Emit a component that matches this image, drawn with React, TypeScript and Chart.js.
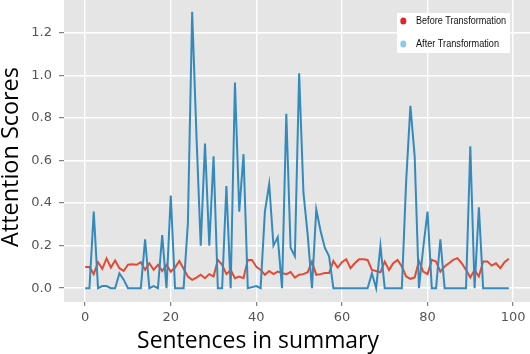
import React, { useEffect, useRef } from "react";
import { Chart, registerables } from "chart.js";

Chart.register(...registerables);

const sentences = [
  0, 1, 2, 3, 4, 5, 6, 7, 8, 9, 10, 11, 12, 13, 14, 15, 16, 17, 18, 19,
  20, 21, 22, 23, 24, 25, 26, 27, 28, 29, 30, 31, 32, 33, 34, 35, 36, 37, 38, 39,
  40, 41, 42, 43, 44, 45, 46, 47, 48, 49, 50, 51, 52, 53, 54, 55, 56, 57, 58, 59,
  60, 61, 62, 63, 64, 65, 66, 67, 68, 69, 70, 71, 72, 73, 74, 75, 76, 77, 78, 79,
  80, 81, 82, 83, 84, 85, 86, 87, 88, 89, 90, 91, 92, 93, 94, 95, 96, 97, 98, 99,
];

const beforeTransformation = [
  0.099, 0.099, 0.066, 0.122, 0.091, 0.14, 0.097, 0.13, 0.094, 0.081,
  0.11, 0.113, 0.11, 0.122, 0.086, 0.117, 0.086, 0.11, 0.081, 0.11,
  0.078, 0.097, 0.128, 0.091, 0.055, 0.039, 0.05, 0.063, 0.047, 0.066,
  0.055, 0.133, 0.11, 0.066, 0.086, 0.047, 0.055, 0.047, 0.133, 0.133,
  0.1, 0.086, 0.063, 0.081, 0.066, 0.078, 0.071, 0.066, 0.076, 0.05,
  0.063, 0.066, 0.075, 0.125, 0.063, 0.066, 0.071, 0.071, 0.128, 0.097,
  0.122, 0.136, 0.094, 0.117, 0.136, 0.136, 0.133, 0.086, 0.081, 0.075,
  0.125, 0.086, 0.117, 0.133, 0.102, 0.055, 0.044, 0.05, 0.128, 0.078,
  0.066, 0.133, 0.125, 0.078, 0.102, 0.117, 0.133, 0.141, 0.117, 0.086,
  0.05, 0.086, 0.055, 0.125, 0.125, 0.106, 0.117, 0.094, 0.122, 0.138,
];

const afterTransformation = [
  0, 0, 0.36, 0, 0.01, 0.01, 0, 0, 0.07, 0.04,
  0, 0, 0, 0, 0.23, 0, 0.01, 0, 0.25, 0,
  0.435, 0, 0, 0, 0.305, 1.3, 0.72, 0.2, 0.68, 0.2,
  0.62, 0, 0, 0.48, 0, 0.967, 0.36, 0.63, 0, 0.005,
  0.01, 0, 0.36, 0.49, 0.2, 0.24, 0, 0.82, 0.19, 0.15,
  1.01, 0.45, 0.25, 0, 0.37, 0.27, 0.19, 0.15, 0, 0,
  0, 0, 0, 0, 0, 0, 0, 0.07, 0, 0.2,
  0, 0, 0, 0, 0, 0.5, 0.857, 0.62, 0, 0.19,
  0.36, 0, 0, 0.23, 0, 0, 0, 0, 0, 0,
  0.667, 0, 0.38, 0, 0, 0, 0, 0, 0, 0,
];

const xTicks = [0, 20, 40, 60, 80, 100];
const yTicks = [0.0, 0.2, 0.4, 0.6, 0.8, 1.0, 1.2];

const seriesNames = ["Before Transformation", "After Transformation"];
const xTitle = "Sentences in summary";
const yTitle = "Attention Scores";

const RED = "#E24A33";
const BLUE = "#348ABD";
const LEGEND_RED = "#E3202B";
const LEGEND_BLUE = "#8FC9E8";

function fitFont(ctx: CanvasRenderingContext2D, text: string, family: string, target: number, base: number) {
  ctx.font = `${base}px ${family}`;
  const w = ctx.measureText(text).width;
  return base * (target / w);
}

const decorPlugin = {
  id: "decor",
  beforeDraw(chart: any) {
    const { ctx, chartArea } = chart;
    ctx.save();
    ctx.fillStyle = "#E5E5E5";
    ctx.fillRect(chartArea.left, chartArea.top, chartArea.right - chartArea.left, chartArea.bottom - chartArea.top);
    ctx.restore();
  },
  afterDraw(chart: any) {
    const { ctx } = chart;
    ctx.save();
    // axis titles
    const fam = '"Open Sans", "Noto Sans", sans-serif';
    ctx.fillStyle = "#000";
    ctx.textAlign = "center";
    ctx.textBaseline = "middle";
    const xs = fitFont(ctx, xTitle, fam, 242, 22);
    ctx.font = `${xs}px ${fam}`;
    ctx.fillText(xTitle, 258, 341);
    const ys = fitFont(ctx, yTitle, fam, 180, 22);
    ctx.font = `${ys}px ${fam}`;
    ctx.translate(11, 157);
    ctx.rotate(-Math.PI / 2);
    ctx.fillText(yTitle, 0, 0);
    ctx.restore();

    // legend
    ctx.save();
    ctx.fillStyle = "#FFFFFF";
    ctx.fillRect(397, 13, 113, 40);
    const colors = [LEGEND_RED, LEGEND_BLUE];
    const ys2 = [21, 44];
    const widths = [90, 83];
    const lf = '"Liberation Sans Narrow", "Liberation Sans", "DejaVu Sans Condensed", sans-serif';
    for (let k = 0; k < 2; k++) {
      ctx.fillStyle = colors[k];
      ctx.beginPath();
      ctx.ellipse(403.3, ys2[k], 3, 3.6, 0, 0, Math.PI * 2);
      ctx.fill();
      ctx.font = `11px ${lf}`;
      const w = ctx.measureText(seriesNames[k]).width;
      ctx.save();
      ctx.translate(416, ys2[k]);
      ctx.scale(widths[k] / w, 1);
      ctx.fillStyle = "#111";
      ctx.textAlign = "left";
      ctx.textBaseline = "middle";
      ctx.fillText(seriesNames[k], 0, 0);
      ctx.restore();
    }
    ctx.restore();
  },
};

export default function App() {
  const ref = useRef<HTMLCanvasElement | null>(null);
  useEffect(() => {
    document.body.style.margin = "0";
    const canvas = ref.current;
    if (!canvas) return;
    const chart = new Chart(canvas, {
      type: "line",
      data: {
        datasets: [
          {
            label: seriesNames[0],
            data: sentences.map((x, i) => ({ x, y: beforeTransformation[i] })),
            borderColor: RED,
            borderWidth: 2,
            pointRadius: 0,
            tension: 0,
            order: 2,
          },
          {
            label: seriesNames[1],
            data: sentences.map((x, i) => ({ x, y: afterTransformation[i] })),
            borderColor: BLUE,
            borderWidth: 2,
            pointRadius: 0,
            tension: 0,
            order: 1,
          },
        ],
      },
      options: {
        responsive: false,
        animation: false,
        layout: { padding: 0 },
        plugins: { legend: { display: false }, tooltip: { enabled: false } },
        scales: {
          x: {
            type: "linear",
            min: -4.95,
            max: 103.95,
            afterBuildTicks: (s: any) => {
              s.ticks = xTicks.map((v) => ({ value: v }));
            },
            afterFit: (s: any) => {
              s.height = 52;
              s.paddingLeft = 0;
              s.paddingRight = 0;
            },
            border: { display: false },
            grid: {
              color: "#FFFFFF",
              lineWidth: 1.4,
              drawTicks: true,
              tickLength: 4,
              tickColor: "#666",
              tickWidth: 1,
            },
            ticks: {
              color: "#555",
              font: { family: '"DejaVu Sans", sans-serif', size: 13 },
              padding: 4,
              maxRotation: 0,
              callback: (v: any) => String(v),
            },
          },
          y: {
            type: "linear",
            min: -0.065,
            max: 1.355,
            afterBuildTicks: (s: any) => {
              s.ticks = yTicks.map((v) => ({ value: v }));
            },
            afterFit: (s: any) => {
              s.width = 64;
              s.paddingTop = 0;
              s.paddingBottom = 0;
            },
            border: { display: false },
            grid: {
              color: "#FFFFFF",
              lineWidth: 1.4,
              drawTicks: true,
              tickLength: 5,
              tickColor: "#666",
              tickWidth: 1,
            },
            ticks: {
              color: "#555",
              font: { family: '"DejaVu Sans", sans-serif', size: 13 },
              padding: 7,
              callback: (v: any) => Number(v).toFixed(1),
            },
          },
        },
      },
      plugins: [decorPlugin],
    } as any);
    return () => chart.destroy();
  }, []);
  return (
    <div style={{ position: "fixed", left: 0, top: 0, width: 530, height: 354, background: "#fff" }}>
      <canvas ref={ref} width={530} height={354} style={{ display: "block" }} />
    </div>
  );
}
